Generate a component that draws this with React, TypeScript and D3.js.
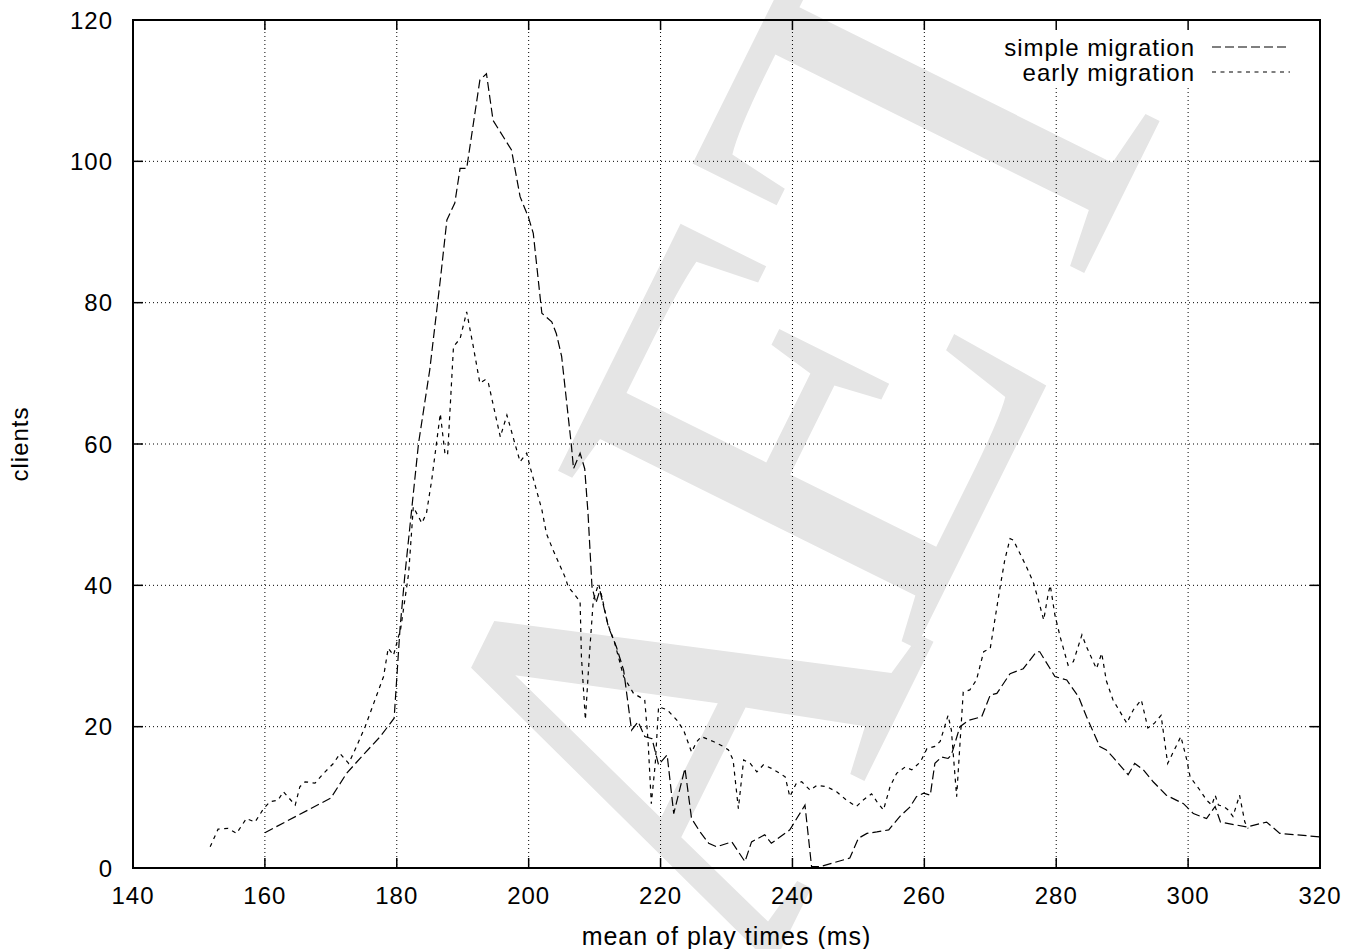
import React from "react";
import * as d3 from "d3";

// ---- data ----
const simpleX = [160.0,170.0,172.4,174.9,177.5,179.6,180.5,181.2,183.3,185.0,186.6,187.6,188.8,189.6,190.6,192.6,193.6,194.6,197.4,198.7,200.0,200.7,202.0,203.5,204.2,205.0,206.5,206.8,207.8,208.5,209.0,209.6,210.2,210.8,212.1,213.3,214.4,215.6,216.6,217.6,218.7,219.7,221.0,222.0,223.7,224.7,226.0,227.3,228.5,230.8,232.8,233.8,235.8,236.8,239.6,241.9,242.9,244.2,248.7,250.0,251.3,252.8,254.6,256.3,257.8,258.8,259.9,260.9,261.6,262.6,263.6,264.1,265.4,266.7,268.7,270.0,271.0,273.0,275.0,277.0,277.5,279.8,281.6,283.4,284.6,286.6,287.6,288.6,290.9,291.9,293.2,294.7,296.7,299.3,300.8,302.8,304.1,304.9,308.9,311.9,313.9,320.0];
const simpleY = [5.0,9.9,13.4,16.0,18.6,21.2,34.0,41.2,60.1,70.5,83.2,91.7,94.1,99.0,99.0,111.5,112.4,105.8,101.6,95.0,92.0,89.8,78.5,77.3,75.6,72.4,59.6,56.5,58.7,56.5,50.2,39.8,37.5,39.3,34.1,31.3,28.0,19.5,20.7,18.6,18.3,14.6,16.0,7.7,14.1,7.0,5.1,3.5,3.0,3.7,0.9,3.7,4.7,3.5,5.4,8.9,0.2,0.2,1.4,4.2,4.9,5.1,5.4,7.3,8.6,10.1,10.6,10.3,14.8,15.7,15.5,16.0,20.0,20.9,21.4,24.5,24.7,27.5,28.2,30.6,30.6,27.1,26.6,24.2,21.4,17.2,16.7,15.7,13.2,14.8,13.9,12.2,10.3,9.1,7.7,7.0,8.7,6.5,5.8,6.5,4.9,4.4];

const earlyX = [151.7,152.9,154.4,155.7,157.2,158.5,159.8,160.8,162.0,162.8,164.6,165.3,166.1,167.6,168.9,170.4,171.4,172.7,173.9,175.2,176.5,178.0,178.7,179.5,180.6,181.8,182.3,182.5,183.8,184.5,185.3,186.6,187.3,187.7,188.6,189.6,190.6,191.6,192.6,193.4,193.9,195.7,196.7,197.9,198.7,199.7,200.2,202.0,202.7,203.7,205.5,206.0,207.8,208.0,208.6,209.2,209.8,210.6,211.1,212.0,213.0,214.4,215.9,217.6,218.1,218.6,219.2,219.7,221.0,222.5,223.5,224.7,225.5,226.2,228.0,229.5,230.3,231.0,231.8,232.6,233.6,234.6,235.6,236.8,238.1,238.9,239.6,240.6,241.4,242.7,243.7,245.2,246.7,248.2,249.7,250.7,252.0,252.8,253.8,254.8,255.8,257.1,258.1,259.4,260.4,261.6,262.4,263.6,264.1,264.9,265.9,266.9,267.9,269.0,270.0,271.5,272.2,273.0,273.5,274.5,275.5,276.5,277.3,278.1,278.8,279.1,279.8,280.6,281.8,282.6,283.9,284.6,286.1,286.9,287.6,288.6,290.7,291.7,292.9,293.9,294.9,295.9,296.9,297.9,298.9,299.8,300.3,301.8,302.8,303.6,304.1,304.6,305.4,306.1,306.8,307.8,308.6,309.1];
const earlyY = [3.0,5.5,5.6,4.9,7.0,6.5,8.4,9.4,9.6,10.8,8.9,11.5,12.2,12.0,13.4,14.8,16.2,14.8,17.2,20.0,23.3,27.1,31.1,30.1,33.9,41.7,48.3,51.1,48.8,50.2,54.9,64.3,58.7,58.4,73.8,74.9,78.7,73.8,68.6,69.1,68.6,61.0,64.1,60.1,57.5,58.7,56.8,50.7,47.3,45.0,41.2,39.8,37.7,29.9,21.0,30.0,37.9,40.2,38.4,34.5,32.0,27.1,24.7,23.8,18.1,9.1,14.8,22.8,22.4,20.9,19.5,16.4,17.9,18.6,17.9,17.2,16.7,15.3,8.4,15.3,14.8,13.6,14.6,14.1,13.4,12.9,10.1,12.0,12.2,11.0,11.7,11.5,10.8,9.6,8.7,9.6,10.5,9.4,8.2,11.5,13.4,14.3,13.9,15.0,16.9,17.2,17.9,21.6,19.5,10.1,24.9,25.2,26.6,30.6,31.1,39.8,43.6,46.6,46.4,44.5,42.6,40.5,37.9,35.1,38.9,40.0,35.8,32.7,28.7,29.2,33.0,31.3,28.2,30.4,26.5,23.8,20.5,22.4,23.8,19.8,20.5,21.6,14.8,16.7,18.6,15.3,12.9,11.0,9.6,8.9,10.3,8.9,8.7,8.2,7.3,10.3,6.5,5.6];

const xTicks = [140,160,180,200,220,240,260,280,300,320];
const yTicks = [0,20,40,60,80,100,120];
const seriesNames = ["simple migration", "early migration"];
const xTitle = "mean of play times (ms)";
const yTitle = "clients";
const watermarkLetters = ["A", "E", "T"];

const W = 1359, H = 949;
const L = 133, R = 1320, T = 20, B = 868;
const FONT = "'Liberation Sans', Arial, Helvetica, sans-serif";

export default function App() {
  const x = d3.scaleLinear().domain([140, 320]).range([L, R]);
  const y = d3.scaleLinear().domain([0, 120]).range([B, T]);
  const line = d3.line<[number, number]>().x(d => x(d[0])).y(d => y(d[1]));
  const simple = line(simpleX.map((v, i) => [v, simpleY[i]] as [number, number])) || "";
  const early = line(earlyX.map((v, i) => [v, earlyY[i]] as [number, number])) || "";

  // watermark geometry (rotated serif letters)
  const ang = -63.6;
  const rad = (ang * Math.PI) / 180;
  const bx = Math.cos(rad), by = Math.sin(rad);
  const ux = Math.sin(rad), uy = -Math.cos(rad);
  const ox = 800, oy = 949;
  const letterU = [136, 476, 817];
  const letterV = [17, 30, 46];

  const dashes = ["9,4", "4,4.5"];
  const tick = 10;

  return (
    <svg width={W} height={H} style={{ position: "absolute", left: 0, top: 0, background: "#fff" }}
      fontFamily={FONT} letterSpacing={1}>
      <rect x={0} y={0} width={W} height={H} fill="#fff" />
      {/* watermark */}
      {watermarkLetters.map((ch, i) => {
        const px = ox + letterU[i] * bx + letterV[i] * ux;
        const py = oy + letterU[i] * by + letterV[i] * uy;
        return (
          <text key={ch} transform={`translate(${px},${py}) rotate(${ang}) scale(0.92,1)`}
            textAnchor="middle" fontFamily="'Liberation Serif', 'Times New Roman', serif"
            letterSpacing={0} fontSize={610} fill="#e5e5e5">{ch}</text>
        );
      })}
      {/* grid */}
      <g stroke="#000" strokeWidth={1} strokeDasharray="1,3">
        {xTicks.slice(1, -1).map(t => (
          <line key={"gx" + t} x1={x(t)} x2={x(t)} y1={T} y2={B} />
        ))}
        {yTicks.slice(1, -1).map(t => (
          <line key={"gy" + t} x1={L} x2={R} y1={y(t)} y2={y(t)} />
        ))}
      </g>
      {/* legend background */}
      <rect x={990} y={22} width={315} height={66} fill="#fff" />
      {/* ticks */}
      <g stroke="#000" strokeWidth={1.5}>
        {xTicks.map(t => (
          <g key={"tx" + t}>
            <line x1={x(t)} x2={x(t)} y1={B} y2={B - tick} />
            <line x1={x(t)} x2={x(t)} y1={T} y2={T + tick} />
          </g>
        ))}
        {yTicks.map(t => (
          <g key={"ty" + t}>
            <line x1={L} x2={L + tick} y1={y(t)} y2={y(t)} />
            <line x1={R} x2={R - tick} y1={y(t)} y2={y(t)} />
          </g>
        ))}
      </g>
      {/* data */}
      <defs>
        <clipPath id="plotclip"><rect x={L} y={T} width={R - L} height={B - T} /></clipPath>
      </defs>
      <g clipPath="url(#plotclip)" fill="none" stroke="#000" strokeWidth={1.2}>
        <path d={simple} strokeDasharray={dashes[0]} />
        <path d={early} strokeDasharray={dashes[1]} />
      </g>
      {/* border */}
      <rect x={L} y={T} width={R - L} height={B - T} fill="none" stroke="#000" strokeWidth={2} />
      {/* tick labels */}
      <g fontSize={24} fill="#000">
        {xTicks.map(t => (
          <text key={"lx" + t} x={x(t)} y={B + 36} textAnchor="middle">{t}</text>
        ))}
        {yTicks.map(t => (
          <text key={"ly" + t} x={L - 20} y={y(t)} dy="0.36em" textAnchor="end">{t}</text>
        ))}
      </g>
      {/* axis titles */}
      <text x={(L + R) / 2} y={945} textAnchor="middle" fontSize={25}>{xTitle}</text>
      <text transform={`translate(28,${(T + B) / 2}) rotate(-90)`} textAnchor="middle" fontSize={24}>{yTitle}</text>
      {/* legend */}
      {seriesNames.map((n, i) => (
        <g key={n}>
          <text x={1195} y={47 + i * 25} dy="0.36em" textAnchor="end" fontSize={24}>{n}</text>
          <line x1={1212} x2={1290} y1={47 + i * 25} y2={47 + i * 25} stroke="#000" strokeWidth={1.2}
            strokeDasharray={dashes[i]} />
        </g>
      ))}
    </svg>
  );
}
